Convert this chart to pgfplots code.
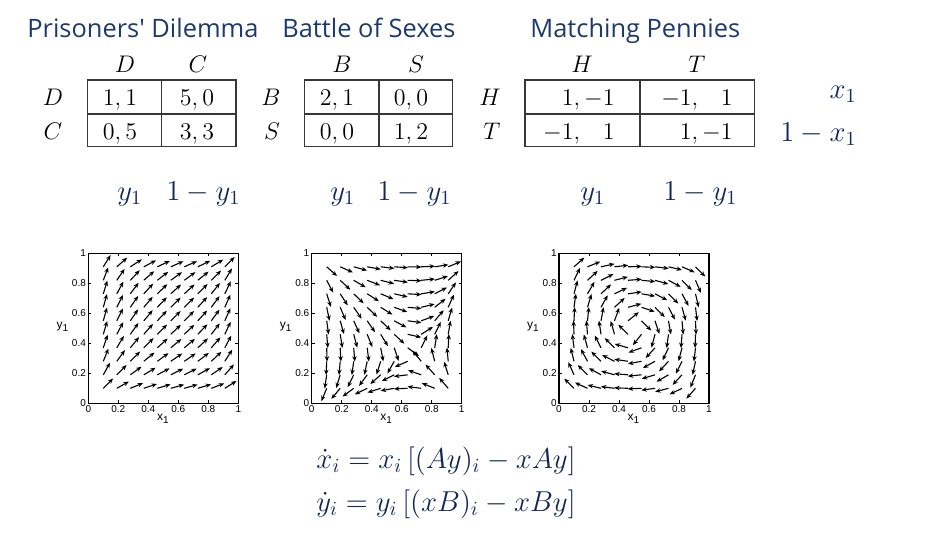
\documentclass[border=0pt]{standalone}
\usepackage{fontspec}
\usepackage{pgfplots}
\pgfplotsset{compat=1.18}
\usepackage{pgfplotstable}
\usetikzlibrary{arrows.meta}
\newfontfamily\titlefont{Open Sans}
\newfontfamily\tickfont{Liberation Sans}
\definecolor{titleblue}{RGB}{28,58,110}
\definecolor{navy}{RGB}{18,38,88}
\definecolor{tabline}{RGB}{55,55,55}
\newcommand{\mfont}{\fontsize{12}{14}\selectfont}
\newcommand{\lfont}{\fontsize{14.4}{17}\selectfont}

% Prisoners' Dilemma field (u, v scaled x100)
\pgfplotstableread{
x y u v
0.10 0.10 17.1 17.1
0.10 0.19 16.3 29.2
0.10 0.28 15.5 38.3
0.10 0.37 14.7 44.3
0.10 0.46 13.9 47.2
0.10 0.55 13.1 47.0
0.10 0.64 12.2 43.8
0.10 0.73 11.4 37.4
0.10 0.82 10.6 28.0
0.10 0.91 9.8 15.6
0.19 0.10 29.2 16.3
0.19 0.19 27.9 27.9
0.19 0.28 26.5 36.5
0.19 0.37 25.1 42.2
0.19 0.46 23.7 45.0
0.19 0.55 22.3 44.8
0.19 0.64 20.9 41.7
0.19 0.73 19.5 35.7
0.19 0.82 18.2 26.7
0.19 0.91 16.8 14.8
0.28 0.10 38.3 15.5
0.28 0.19 36.5 26.5
0.28 0.28 34.7 34.7
0.28 0.37 32.9 40.1
0.28 0.46 31.0 42.7
0.28 0.55 29.2 42.6
0.28 0.64 27.4 39.6
0.28 0.73 25.6 33.9
0.28 0.82 23.8 25.4
0.28 0.91 22.0 14.1
0.37 0.10 44.3 14.7
0.37 0.19 42.2 25.1
0.37 0.28 40.1 32.9
0.37 0.37 38.0 38.0
0.37 0.46 35.9 40.5
0.37 0.55 33.8 40.3
0.37 0.64 31.7 37.6
0.37 0.73 29.6 32.1
0.37 0.82 27.5 24.1
0.37 0.91 25.4 13.4
0.46 0.10 47.2 13.9
0.46 0.19 45.0 23.7
0.46 0.28 42.7 31.0
0.46 0.37 40.5 35.9
0.46 0.46 38.3 38.3
0.46 0.55 36.0 38.1
0.46 0.64 33.8 35.5
0.46 0.73 31.6 30.4
0.46 0.82 29.3 22.7
0.46 0.91 27.1 12.6
0.55 0.10 47.0 13.1
0.55 0.19 44.8 22.3
0.55 0.28 42.6 29.2
0.55 0.37 40.3 33.8
0.55 0.46 38.1 36.0
0.55 0.55 35.9 35.9
0.55 0.64 33.7 33.4
0.55 0.73 31.4 28.6
0.55 0.82 29.2 21.4
0.55 0.91 27.0 11.9
0.64 0.10 43.8 12.2
0.64 0.19 41.7 20.9
0.64 0.28 39.6 27.4
0.64 0.37 37.6 31.7
0.64 0.46 35.5 33.8
0.64 0.55 33.4 33.7
0.64 0.64 31.3 31.3
0.64 0.73 29.3 26.8
0.64 0.82 27.2 20.1
0.64 0.91 25.1 11.1
0.73 0.10 37.4 11.4
0.73 0.19 35.7 19.5
0.73 0.28 33.9 25.6
0.73 0.37 32.1 29.6
0.73 0.46 30.4 31.6
0.73 0.55 28.6 31.4
0.73 0.64 26.8 29.3
0.73 0.73 25.0 25.0
0.73 0.82 23.3 18.7
0.73 0.91 21.5 10.4
0.82 0.10 28.0 10.6
0.82 0.19 26.7 18.2
0.82 0.28 25.4 23.8
0.82 0.37 24.1 27.5
0.82 0.46 22.7 29.3
0.82 0.55 21.4 29.2
0.82 0.64 20.1 27.2
0.82 0.73 18.7 23.3
0.82 0.82 17.4 17.4
0.82 0.91 16.1 9.7
0.91 0.10 15.6 9.8
0.91 0.19 14.8 16.8
0.91 0.28 14.1 22.0
0.91 0.37 13.4 25.4
0.91 0.46 12.6 27.1
0.91 0.55 11.9 27.0
0.91 0.64 11.1 25.1
0.91 0.73 10.4 21.5
0.91 0.82 9.7 16.1
0.91 0.91 8.9 8.9
}\pdtable

% Battle of Sexes field
\pgfplotstableread{
x y u v
0.10 0.10 -6.30 -15.30
0.10 0.19 -3.87 -26.16
0.10 0.28 -1.44 -34.27
0.10 0.37 0.99 -39.63
0.10 0.46 3.42 -42.23
0.10 0.55 5.85 -42.08
0.10 0.64 8.28 -39.17
0.10 0.73 10.71 -33.51
0.10 0.82 13.14 -25.09
0.10 0.91 15.57 -13.92
0.19 0.10 -10.77 -12.87
0.19 0.19 -6.62 -22.01
0.19 0.28 -2.46 -28.83
0.19 0.37 1.69 -33.33
0.19 0.46 5.85 -35.52
0.19 0.55 10.00 -35.39
0.19 0.64 14.16 -32.95
0.19 0.73 18.31 -28.19
0.19 0.82 22.47 -21.11
0.19 0.91 26.62 -11.71
0.28 0.10 -14.11 -10.44
0.28 0.19 -8.67 -17.85
0.28 0.28 -3.23 -23.39
0.28 0.37 2.22 -27.04
0.28 0.46 7.66 -28.81
0.28 0.55 13.10 -28.71
0.28 0.64 18.55 -26.73
0.28 0.73 23.99 -22.86
0.28 0.82 29.43 -17.12
0.28 0.91 34.88 -9.50
0.37 0.10 -16.32 -8.01
0.37 0.19 -10.02 -13.70
0.37 0.28 -3.73 -17.94
0.37 0.37 2.56 -20.75
0.37 0.46 8.86 -22.11
0.37 0.55 15.15 -22.03
0.37 0.64 21.45 -20.51
0.37 0.73 27.74 -17.54
0.37 0.82 34.03 -13.14
0.37 0.91 40.33 -7.29
0.46 0.10 -17.39 -5.58
0.46 0.19 -10.68 -9.54
0.46 0.28 -3.97 -12.50
0.46 0.37 2.73 -14.45
0.46 0.46 9.44 -15.40
0.46 0.55 16.15 -15.35
0.46 0.64 22.85 -14.28
0.46 0.73 29.56 -12.22
0.46 0.82 36.27 -9.15
0.46 0.91 42.97 -5.08
0.55 0.10 -17.33 -3.15
0.55 0.19 -10.64 -5.39
0.55 0.28 -3.96 -7.06
0.55 0.37 2.72 -8.16
0.55 0.46 9.41 -8.69
0.55 0.55 16.09 -8.66
0.55 0.64 22.77 -8.06
0.55 0.73 29.45 -6.90
0.55 0.82 36.14 -5.17
0.55 0.91 42.82 -2.87
0.64 0.10 -16.13 -0.72
0.64 0.19 -9.91 -1.23
0.64 0.28 -3.69 -1.61
0.64 0.37 2.53 -1.86
0.64 0.46 8.76 -1.99
0.64 0.55 14.98 -1.98
0.64 0.64 21.20 -1.84
0.64 0.73 27.42 -1.58
0.64 0.82 33.64 -1.18
0.64 0.91 39.86 -0.66
0.73 0.10 -13.80 1.71
0.73 0.19 -8.48 2.92
0.73 0.28 -3.15 3.83
0.73 0.37 2.17 4.43
0.73 0.46 7.49 4.72
0.73 0.55 12.81 4.70
0.73 0.64 18.13 4.38
0.73 0.73 23.45 3.74
0.73 0.82 28.78 2.80
0.73 0.91 34.10 1.56
0.82 0.10 -10.33 4.14
0.82 0.19 -6.35 7.08
0.82 0.28 -2.36 9.27
0.82 0.37 1.62 10.72
0.82 0.46 5.61 11.43
0.82 0.55 9.59 11.39
0.82 0.64 13.58 10.60
0.82 0.73 17.56 9.07
0.82 0.82 21.55 6.79
0.82 0.91 25.53 3.77
0.91 0.10 -5.73 6.57
0.91 0.19 -3.52 11.23
0.91 0.28 -1.31 14.72
0.91 0.37 0.90 17.02
0.91 0.46 3.11 18.13
0.91 0.55 5.32 18.07
0.91 0.64 7.53 16.82
0.91 0.73 9.75 14.39
0.91 0.82 11.96 10.77
0.91 0.91 14.17 5.98
}\bostable

% Matching Pennies field
\pgfplotstableread{
x y u v
0.10 0.10 -14.40 14.40
0.10 0.19 -11.16 24.62
0.10 0.28 -7.92 32.26
0.10 0.37 -4.68 37.30
0.10 0.46 -1.44 39.74
0.10 0.55 1.80 39.60
0.10 0.64 5.04 36.86
0.10 0.73 8.28 31.54
0.10 0.82 11.52 23.62
0.10 0.91 14.76 13.10
0.19 0.10 -24.62 11.16
0.19 0.19 -19.08 19.08
0.19 0.28 -13.54 25.00
0.19 0.37 -8.00 28.90
0.19 0.46 -2.46 30.80
0.19 0.55 3.08 30.69
0.19 0.64 8.62 28.57
0.19 0.73 14.16 24.44
0.19 0.82 19.70 18.30
0.19 0.91 25.24 10.16
0.28 0.10 -32.26 7.92
0.28 0.19 -25.00 13.54
0.28 0.28 -17.74 17.74
0.28 0.37 -10.48 20.51
0.28 0.46 -3.23 21.86
0.28 0.55 4.03 21.78
0.28 0.64 11.29 20.28
0.28 0.73 18.55 17.34
0.28 0.82 25.80 12.99
0.28 0.91 33.06 7.21
0.37 0.10 -37.30 4.68
0.37 0.19 -28.90 8.00
0.37 0.28 -20.51 10.48
0.37 0.37 -12.12 12.12
0.37 0.46 -3.73 12.92
0.37 0.55 4.66 12.87
0.37 0.64 13.05 11.98
0.37 0.73 21.45 10.25
0.37 0.82 29.84 7.68
0.37 0.91 38.23 4.26
0.46 0.10 -39.74 1.44
0.46 0.19 -30.80 2.46
0.46 0.28 -21.86 3.23
0.46 0.37 -12.92 3.73
0.46 0.46 -3.97 3.97
0.46 0.55 4.97 3.96
0.46 0.64 13.91 3.69
0.46 0.73 22.85 3.15
0.46 0.82 31.80 2.36
0.46 0.91 40.74 1.31
0.55 0.10 -39.60 -1.80
0.55 0.19 -30.69 -3.08
0.55 0.28 -21.78 -4.03
0.55 0.37 -12.87 -4.66
0.55 0.46 -3.96 -4.97
0.55 0.55 4.95 -4.95
0.55 0.64 13.86 -4.61
0.55 0.73 22.77 -3.94
0.55 0.82 31.68 -2.95
0.55 0.91 40.59 -1.64
0.64 0.10 -36.86 -5.04
0.64 0.19 -28.57 -8.62
0.64 0.28 -20.28 -11.29
0.64 0.37 -11.98 -13.05
0.64 0.46 -3.69 -13.91
0.64 0.55 4.61 -13.86
0.64 0.64 12.90 -12.90
0.64 0.73 21.20 -11.04
0.64 0.82 29.49 -8.27
0.64 0.91 37.79 -4.59
0.73 0.10 -31.54 -8.28
0.73 0.19 -24.44 -14.16
0.73 0.28 -17.34 -18.55
0.73 0.37 -10.25 -21.45
0.73 0.46 -3.15 -22.85
0.73 0.55 3.94 -22.77
0.73 0.64 11.04 -21.20
0.73 0.73 18.13 -18.13
0.73 0.82 25.23 -13.58
0.73 0.91 32.32 -7.53
0.82 0.10 -23.62 -11.52
0.82 0.19 -18.30 -19.70
0.82 0.28 -12.99 -25.80
0.82 0.37 -7.68 -29.84
0.82 0.46 -2.36 -31.80
0.82 0.55 2.95 -31.68
0.82 0.64 8.27 -29.49
0.82 0.73 13.58 -25.23
0.82 0.82 18.89 -18.89
0.82 0.91 24.21 -10.48
0.91 0.10 -13.10 -14.76
0.91 0.19 -10.16 -25.24
0.91 0.28 -7.21 -33.06
0.91 0.37 -4.26 -38.23
0.91 0.46 -1.31 -40.74
0.91 0.55 1.64 -40.59
0.91 0.64 4.59 -37.79
0.91 0.73 7.53 -32.32
0.91 0.82 10.48 -24.21
0.91 0.91 13.43 -13.43
}\mptable

\pgfplotsset{
  qv/.style={
    anchor=south west, width=75pt, height=75pt, scale only axis,
    xmin=0, xmax=1, ymin=0, ymax=1,
    xtick={0,0.2,0.4,0.6,0.8,1}, ytick={0,0.2,0.4,0.6,0.8,1},
    tick align=inside, major tick length=1.5pt,
    tick style={black, line width=0.4pt},
    axis line style={black, line width=0.6pt},
    tick label style={font={\tickfont\fontsize{5}{6}\selectfont}, inner sep=1pt},
    /pgf/number format/assume math mode=true,
    xlabel={x\textsubscript{1}}, ylabel={y\textsubscript{1}},
    label style={font={\tickfont\fontsize{6}{7}\selectfont}},
    xlabel style={at={(axis description cs:0.5,-0.105)}, anchor=center},
    ylabel style={at={(axis description cs:-0.17,0.51)}, rotate=-90, anchor=center},
  },
  fld/.style={black, line width=0.55pt, -{Stealth[length=2.7pt,width=2.2pt]},
    quiver={
      u={0.092*(\thisrow{u})/sqrt((\thisrow{u})*(\thisrow{u})+(\thisrow{v})*(\thisrow{v}))},
      v={0.092*(\thisrow{v})/sqrt((\thisrow{u})*(\thisrow{u})+(\thisrow{v})*(\thisrow{v}))}
    }},
}

\begin{document}
\begin{tikzpicture}[x=0.5pt,y=-0.5pt]
\useasboundingbox (0,0) rectangle (951,535);

% titles
\node[anchor=base west, inner sep=0, text=titleblue, font={\titlefont\fontsize{12.7}{15}\selectfont}] at (27,38) {Prisoners' Dilemma};
\node[anchor=base west, inner sep=0, text=titleblue, font={\titlefont\fontsize{12.7}{15}\selectfont}] at (282,38) {Battle of Sexes};
\node[anchor=base west, inner sep=0, text=titleblue, font={\titlefont\fontsize{12.7}{15}\selectfont}] at (530,38) {Matching Pennies};

% matrix frames
\begin{scope}[draw=tabline, line width=0.55pt]
\draw (87.3,80) rectangle (236,146.7); \draw (161.7,80)--(161.7,146.7); \draw (87.3,114)--(236,114);
\draw (304.3,80) rectangle (452.7,146.7); \draw (379,80)--(379,146.7); \draw (304.3,114)--(452.7,114);
\draw (525,80) rectangle (754.3,146.7); \draw (640,80)--(640,146.7); \draw (525,114)--(754.3,114);
\end{scope}

\begin{scope}[every node/.style={inner sep=0, font=\mfont}]
% PD
\node[anchor=base] at (125,73) {$D$};
\node[anchor=base] at (198,73) {$C$};
\node[anchor=base] at (53,105) {$D$};
\node[anchor=base] at (53,139) {$C$};
\node[anchor=base] at (120,105) {$1,1$};
\node[anchor=base] at (197,105) {$5,0$};
\node[anchor=base] at (120,139) {$0,5$};
\node[anchor=base] at (197,139) {$3,3$};
% BoS
\node[anchor=base] at (342,73) {$B$};
\node[anchor=base] at (416,73) {$S$};
\node[anchor=base] at (271,105) {$B$};
\node[anchor=base] at (272,139) {$S$};
\node[anchor=base] at (337,105) {$2,1$};
\node[anchor=base] at (411,105) {$0,0$};
\node[anchor=base] at (337,139) {$0,0$};
\node[anchor=base] at (411,139) {$1,2$};
% MP
\node[anchor=base] at (582,73) {$H$};
\node[anchor=base] at (697,73) {$T$};
\node[anchor=base] at (490,105) {$H$};
\node[anchor=base] at (492,139) {$T$};
\node[anchor=base east] at (615,105) {$1,-1$};
\node[anchor=base east] at (733,105) {$-1,\phantom{-}1$};
\node[anchor=base east] at (615,139) {$-1,\phantom{-}1$};
\node[anchor=base east] at (733,139) {$1,-1$};
\end{scope}

\begin{scope}[every node/.style={inner sep=0, font=\lfont, text=navy}]
\node[anchor=base east] at (857,98) {$x_1$};
\node[anchor=base east] at (857,141) {$1-x_1$};
\node[anchor=base west] at (117,200) {$y_1$};
\node[anchor=base west] at (166,200) {$1-y_1$};
\node[anchor=base west] at (330,200) {$y_1$};
\node[anchor=base west] at (377,200) {$1-y_1$};
\node[anchor=base west] at (580,200) {$y_1$};
\node[anchor=base west] at (663,200) {$1-y_1$};
\node[anchor=base east] at (576,468) {$\dot{x}_i = x_i\,[(Ay)_i - xAy]$};
\node[anchor=base east] at (576,511) {$\dot{y}_i = y_i\,[(xB)_i - xBy]$};
\end{scope}

% vector fields
\begin{axis}[qv, at={(44.15pt,-201.65pt)}]
\addplot[fld] table {\pdtable};
\end{axis}
\begin{axis}[qv, at={(155.85pt,-201.65pt)}]
\addplot[fld] table {\bostable};
\end{axis}
\begin{axis}[qv, at={(279.5pt,-201.65pt)}]
\addplot[fld] table {\mptable};
\end{axis}
\end{tikzpicture}
\end{document}
